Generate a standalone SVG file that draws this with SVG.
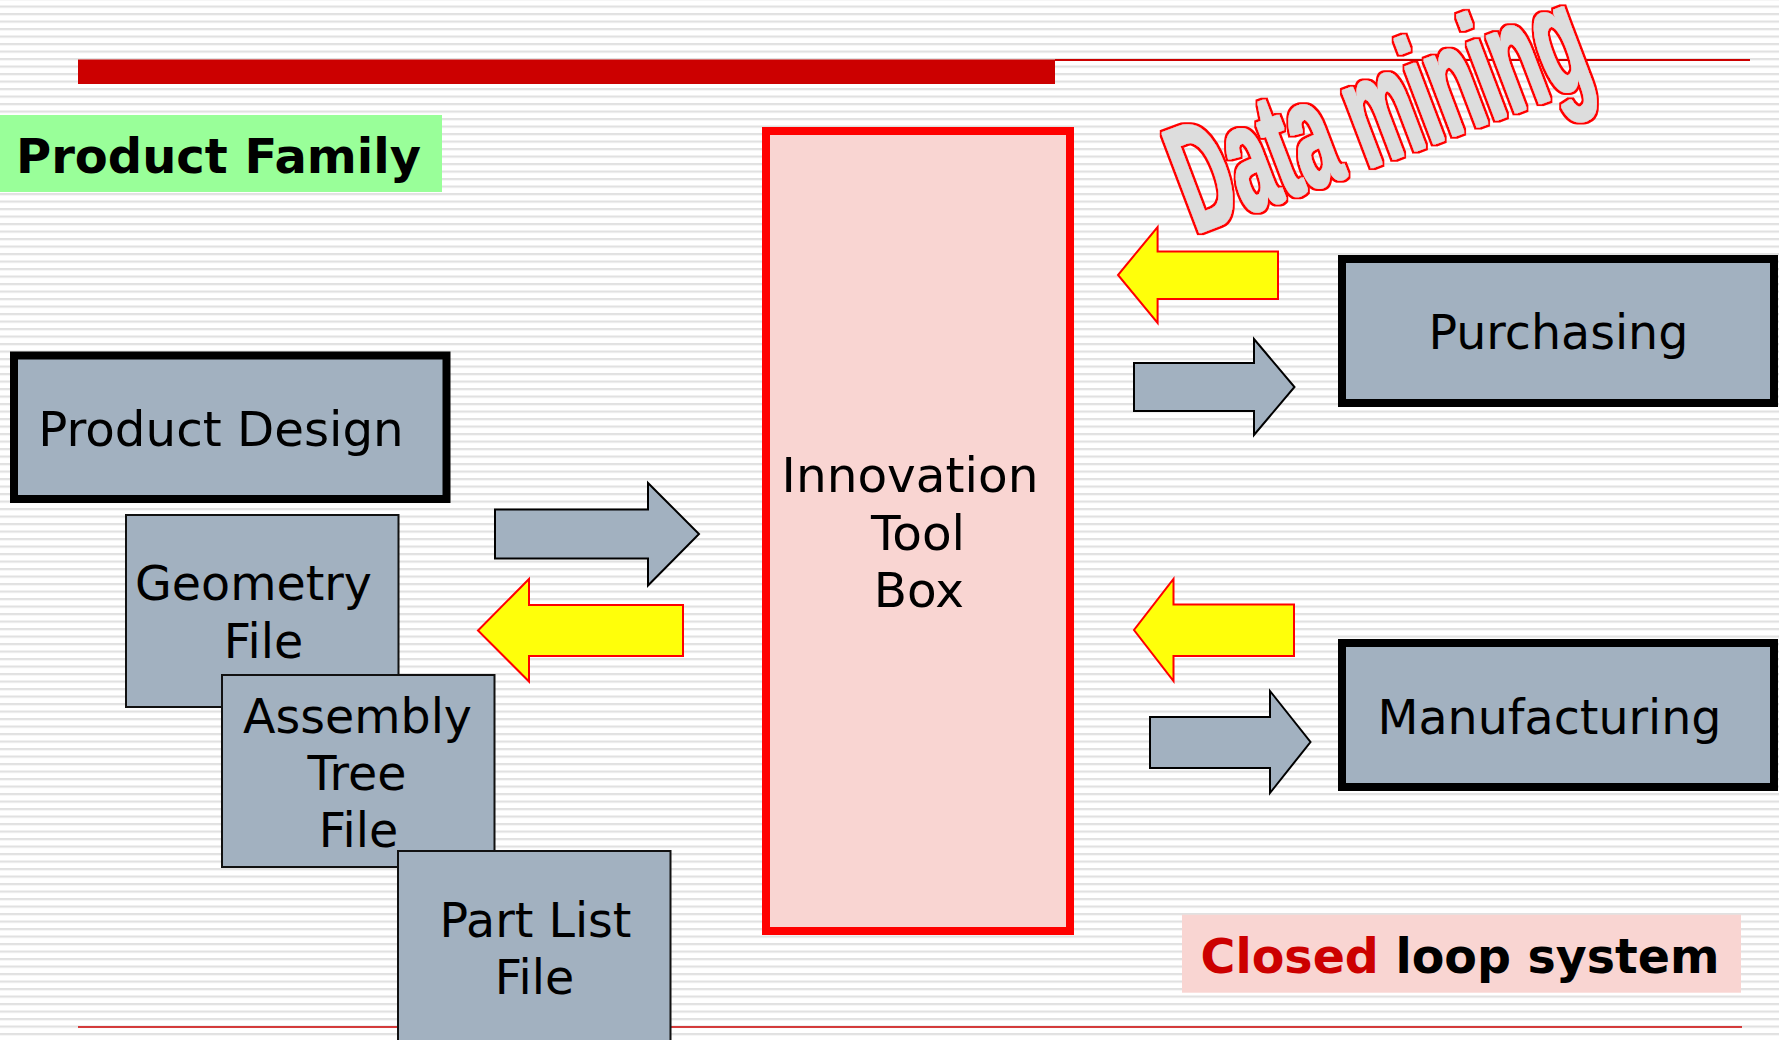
<svg xmlns="http://www.w3.org/2000/svg" width="1779" height="1040" viewBox="0 0 1779 1040">
  <defs>
    <!-- ruled-paper background -->
    <pattern id="rules" patternUnits="userSpaceOnUse" x="0" y="5.5" width="16" height="7.5">
      <rect x="0" y="0" width="16" height="7.5" fill="#FFFFFF"/>
      <rect x="0" y="0" width="16" height="2.2" fill="#E1E1E1"/>
    </pattern>
    <!-- heavy word-art look: grey body widened, thin red rim round it -->
    <filter id="wordart" x="-5%" y="-5%" width="110%" height="110%">
      <feMorphology in="SourceAlpha" operator="dilate" radius="1" result="body"/>
      <feMorphology in="SourceAlpha" operator="dilate" radius="2.7" result="rim"/>
      <feFlood flood-color="#FF0000" result="red"/>
      <feComposite in="red" in2="rim" operator="in" result="redRim"/>
      <feFlood flood-color="#DDDDDD" result="grey"/>
      <feComposite in="grey" in2="body" operator="in" result="greyBody"/>
      <feMerge>
        <feMergeNode in="redRim"/>
        <feMergeNode in="greyBody"/>
      </feMerge>
    </filter>
    <style>
      .txt { font-family: "DejaVu Sans", Verdana, sans-serif; font-size: 47.5px; fill: #000; }
      .bold { font-family: "DejaVu Sans", Verdana, sans-serif; font-weight: bold; font-size: 48px; fill: #000; }
      .mid { text-anchor: middle; }
      .dept { fill: #A2B1C0; stroke: #000; stroke-width: 8; }
      .file { fill: #A2B1C0; stroke: #111; stroke-width: 2; }
      .fwd { fill: #A2B1C0; stroke: #000; stroke-width: 2; stroke-linejoin: miter; }
      .back { fill: #FFFF0A; stroke: #FF0000; stroke-width: 2; stroke-linejoin: miter; }
    </style>
  </defs>

  <rect x="0" y="0" width="1779" height="1040" fill="url(#rules)"/>

  <!-- title rules -->
  <rect x="78" y="59.5" width="977" height="24.5" fill="#CC0000"/>
  <line x1="1055" y1="60" x2="1750" y2="60" stroke="#CC0000" stroke-width="2"/>
  <line x1="78" y1="1027" x2="1742" y2="1027" stroke="#CC0000" stroke-width="1.5"/>

  <!-- heading label -->
  <g id="product-family">
    <rect x="0" y="115" width="442" height="77" fill="#99FF99"/>
    <text class="bold" x="16" y="173.3">Product Family</text>
  </g>

  <!-- left column -->
  <g id="product-design">
    <rect class="dept" x="14" y="355.5" width="432.5" height="143.5"/>
    <text class="txt mid" x="221" y="446" style="font-size:48.3px">Product Design</text>
  </g>

  <g id="geometry-file">
    <rect class="file" x="126" y="515" width="272.5" height="192"/>
    <text class="txt mid" x="253.5" y="600">Geometry</text>
    <text class="txt mid" x="263.5" y="658">File</text>
  </g>

  <g id="assembly-tree-file">
    <rect class="file" x="222" y="675" width="272.5" height="192"/>
    <text class="txt mid" x="357.5" y="732.7">Assembly</text>
    <text class="txt mid" x="357" y="790">Tree</text>
    <text class="txt mid" x="358.5" y="847">File</text>
  </g>

  <g id="part-list-file">
    <rect class="file" x="398" y="851" width="272.5" height="200"/>
    <text class="txt mid" x="535.5" y="936.7">Part List</text>
    <text class="txt mid" x="534.5" y="994">File</text>
  </g>

  <!-- central hub -->
  <g id="innovation-tool-box">
    <rect x="766" y="131" width="304" height="800" fill="#F9D5D2" stroke="#FF0000" stroke-width="8"/>
    <text class="txt mid" x="910" y="491.7" style="font-size:48.5px">Innovation</text>
    <text class="txt mid" x="918" y="550" style="font-size:48.5px">Tool</text>
    <text class="txt mid" x="918.8" y="606.7" style="font-size:48.5px">Box</text>
  </g>

  <!-- right column -->
  <g id="purchasing">
    <rect class="dept" x="1342" y="259" width="432" height="144"/>
    <text class="txt mid" x="1558.4" y="349.3">Purchasing</text>
  </g>

  <g id="manufacturing">
    <rect class="dept" x="1342" y="643" width="432" height="144"/>
    <text class="txt mid" x="1549.5" y="734">Manufacturing</text>
  </g>

  <!-- block arrows between the blocks -->
  <g id="connectors">
    <polygon class="fwd" points="495,509.5 648,509.5 648,483 699,534 648,585.5 648,558.5 495,558.5"/>
    <polygon class="back" points="683,605 529,605 529,579 478,630.5 529,681.5 529,656 683,656"/>
    <polygon class="back" points="1278,251.5 1157.6,251.5 1157.6,227 1118,275 1157.6,323 1157.6,299 1278,299"/>
    <polygon class="fwd" points="1134,363 1254,363 1254,339 1294.5,387 1254,435 1254,411 1134,411"/>
    <polygon class="back" points="1294,604.5 1173.5,604.5 1173.5,579 1134,630 1173.5,681 1173.5,656 1294,656"/>
    <polygon class="fwd" points="1150,717 1270,717 1270,691 1310.5,742 1270,793 1270,768 1150,768"/>
  </g>

  <!-- slanted word-art banner -->
  <g id="data-mining" filter="url(#wordart)">
    <text transform="translate(1195.5,234) rotate(-20.8) scale(1,2.05)" x="0" y="0"
          font-family="'Liberation Sans', Arial, sans-serif" font-weight="bold" font-size="75"
          fill="#DDDDDD">Data mining</text>
  </g>

  <!-- footer label -->
  <g id="closed-loop">
    <rect x="1182" y="914.7" width="559" height="78" fill="#F9D5D2"/>
    <text class="bold" x="1200.6" y="973.3" style="font-size:47.5px"><tspan fill="#CC0000">Closed</tspan> loop system</text>
  </g>
</svg>
